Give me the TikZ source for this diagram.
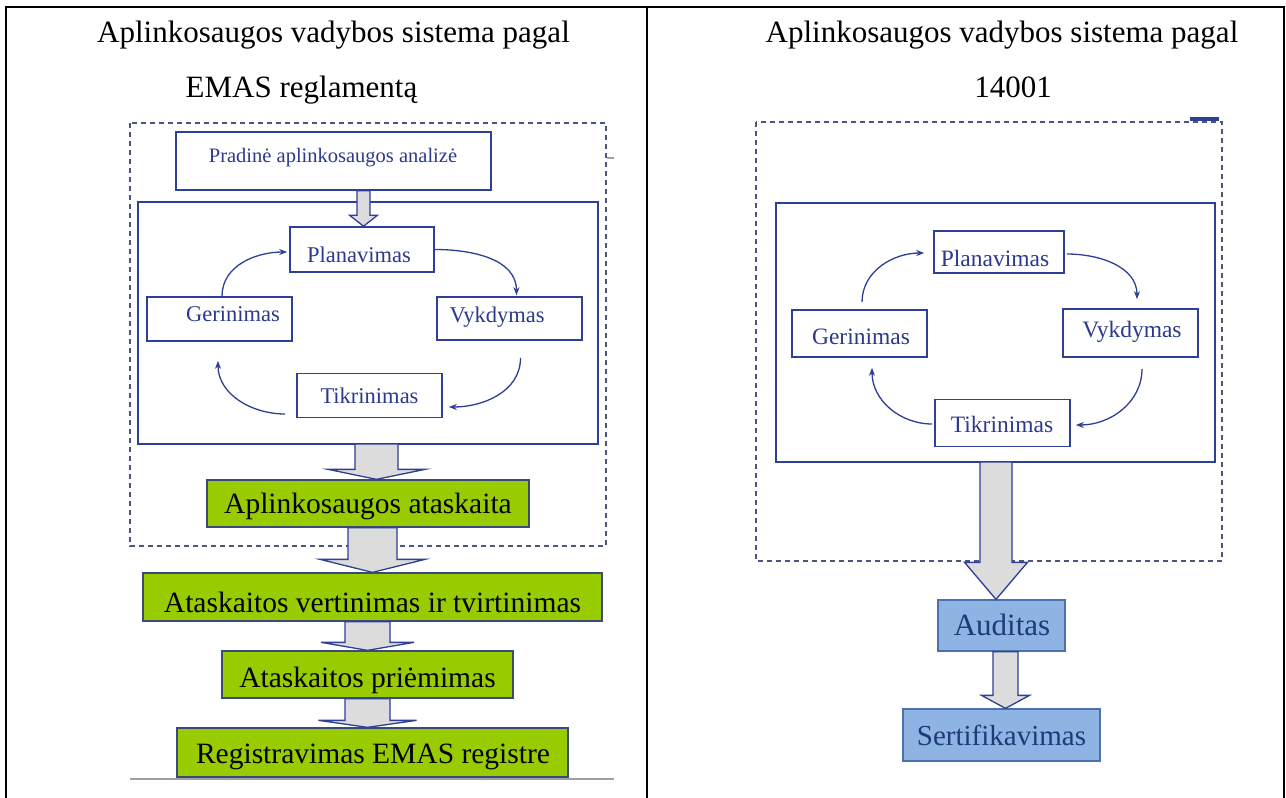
\documentclass[tikz,border=0pt]{standalone}
\usepackage{fontspec}
\setmainfont{Liberation Serif}
\usetikzlibrary{arrows.meta,calc}
\definecolor{lineblue}{HTML}{2E3F96}
\definecolor{txtblue}{HTML}{2B3A8C}
\definecolor{dashcol}{HTML}{4A5584}
\definecolor{greenfill}{HTML}{99CC00}
\definecolor{greenline}{HTML}{3A4A7A}
\definecolor{arrowfill}{HTML}{DCDCDC}
\definecolor{audfill}{HTML}{8DB4E2}
\definecolor{audline}{HTML}{4F6FAF}
\definecolor{audtxt}{HTML}{1F3A78}
\definecolor{rulegray}{HTML}{A0A0A0}
\newcommand{\fsz}[1]{\fontsize{#1}{#1}\selectfont}
% #1 start, #2 tip, #3 shaft half width, #4 head half width, #5 head length
\newcommand{\harrow}[5]{%
  \draw[hollow] let \p1=#1, \p2=#2 in
    (\x2-#3,\y1) -- (\x2+#3,\y1) -- (\x2+#3,\y2+#5) -- (\x2+#4,\y2+#5)
    -- (\x2,\y2) -- (\x2-#4,\y2+#5) -- (\x2-#3,\y2+#5) -- cycle;}
\begin{document}
\begin{tikzpicture}[x=1pt,y=-1pt,
  tbl/.style={line width=2pt,black},
  dashbox/.style={draw=dashcol,line width=1.2pt,dash pattern=on 5pt off 4pt},
  innerbox/.style={draw=lineblue,line width=2.2pt},
  cyc/.style={draw=lineblue,line width=1.6pt,fill=white,inner sep=0pt},
  cyctxt/.style={text=txtblue,inner sep=0pt,anchor=base},
  cycarr/.style={draw=lineblue,line width=1.3pt,-{Stealth[length=8pt,width=6pt]}},
  greenbox/.style={draw=greenline,line width=1.3pt,fill=greenfill,inner sep=0pt},
  greentxt/.style={text=black,inner sep=0pt,anchor=base,font=\fsz{29.5}},
  hollow/.style={draw=lineblue,line width=1.3pt,fill=arrowfill},
  bluebox/.style={draw=audline,line width=1.3pt,fill=audfill,inner sep=0pt},
  bluetxt/.style={text=audtxt,inner sep=0pt,anchor=base},
  hdr/.style={inner sep=0pt,anchor=base,font=\fsz{31}}
]
\useasboundingbox (0,0) rectangle (1286,798);
\fill[white] (0,0) rectangle (1286,798);

% table
\draw[tbl] (6,798) -- (6,7) -- (1284,7) -- (1284,798);
\draw[tbl] (647,7) -- (647,798);

% headers
\node[hdr] (hl1) at (333.5,42) {Aplinkosaugos vadybos sistema pagal};
\node[hdr] (hl2) at (301.5,97) {EMAS reglamentą};
\node[hdr] (hr1) at (1002,42) {Aplinkosaugos vadybos sistema pagal};
\node[hdr] (hr2) at (1013,97) {14001};

% ===== LEFT =====
\draw[dashbox] (130,123) rectangle (606,546);
\draw[rulegray,line width=1.5pt] (607,158) -- (614,158);
\draw[innerbox] (138,202) rectangle (598,444);
\coordinate (innerLsouth) at (368,444);

\node[cyc,minimum width=315pt,minimum height=58pt] (pradine) at (333.5,161) {};
\node[cyctxt,font=\fsz{20.5}] (pradineT) at (333,162) {Pradinė aplinkosaugos analizė};

\node[cyc,minimum width=144pt,minimum height=45pt] (planL) at (362,249.5) {};
\node[cyctxt,font=\fsz{22.5}] (planLT) at (359,262) {Planavimas};
\node[cyc,minimum width=145pt,minimum height=44pt] (gerL) at (219.5,319) {};
\node[cyctxt,font=\fsz{22.5}] (gerLT) at (233,321) {Gerinimas};
\node[cyc,minimum width=145pt,minimum height=43pt] (vykL) at (509.5,318.5) {};
\node[cyctxt,font=\fsz{22.5}] (vykLT) at (497,322) {Vykdymas};
\node[cyc,minimum width=145pt,minimum height=44pt] (tikL) at (369.5,395.5) {};
\node[cyctxt,font=\fsz{22.5}] (tikLT) at (369.5,403) {Tikrinimas};

\draw[cycarr] ([xshift=2.5pt]gerL.north) to[out=90,in=180] ([xshift=-2pt,yshift=-2.5pt]planL.west);
\draw[cycarr] (planL.east) to[out=0,in=90] ([xshift=7pt,yshift=1pt]vykL.north);
\draw[cycarr] ([xshift=11pt,yshift=-17pt]vykL.south) to[out=-90,in=0] ([xshift=6pt,yshift=-11.5pt]tikL.east);
\draw[cycarr] ([xshift=-11pt,yshift=-18.5pt]tikL.west) to[out=180,in=-90] ([xshift=-1.5pt,yshift=-19pt]gerL.south);

\node[greenbox,minimum width=322pt,minimum height=47pt] (atask) at (368,503.5) {};
\node[greentxt] (ataskT) at (368,513) {Aplinkosaugos ataskaita};
\node[greenbox,minimum width=459pt,minimum height=48pt] (vert) at (372.5,597) {};
\node[greentxt] (vertT) at (372.5,612) {Ataskaitos vertinimas ir tvirtinimas};
\node[greenbox,minimum width=291pt,minimum height=47pt] (priem) at (367.5,674.5) {};
\node[greentxt] (priemT) at (367.5,687) {Ataskaitos priėmimas};
\node[greenbox,minimum width=391pt,minimum height=49pt] (regis) at (372.5,752.5) {};
\node[greentxt] (regisT) at (373,763) {Registravimas EMAS registre};

\draw[rulegray,line width=2pt] (130,779) -- (614,779);

\harrow{(pradine.south)}{([xshift=1.5pt]planL.north)}{6.5pt}{14pt}{11pt}
\harrow{(innerLsouth)}{([xshift=8.5pt]atask.north)}{21.5pt}{48.5pt}{10pt}
\harrow{(atask.south)}{(vert.north)}{24.5pt}{52.5pt}{13pt}
\harrow{(vert.south)}{(priem.north)}{22.5pt}{46.5pt}{8pt}
\harrow{(priem.south)}{([xshift=-5pt]regis.north)}{22.5pt}{49pt}{7pt}

% ===== RIGHT =====
\draw[dashbox] (756,122) rectangle (1222,561);
\draw[lineblue,line width=3.5pt] (1190,119) -- (1219,119);
\draw[innerbox] (776,203) rectangle (1215,462);
\coordinate (innerRsouth) at (995.5,462);

\node[cyc,minimum width=130pt,minimum height=42pt] (planR) at (999,252) {};
\node[cyctxt,font=\fsz{23.5}] (planRT) at (995,266) {Planavimas};
\node[cyc,minimum width=135pt,minimum height=47pt] (gerR) at (859.5,333.5) {};
\node[cyctxt,font=\fsz{23.5}] (gerRT) at (861,344) {Gerinimas};
\node[cyc,minimum width=135pt,minimum height=48pt] (vykR) at (1130.5,333) {};
\node[cyctxt,font=\fsz{23.5}] (vykRT) at (1132,337) {Vykdymas};
\node[cyc,minimum width=135pt,minimum height=47pt] (tikR) at (1002.5,423) {};
\node[cyctxt,font=\fsz{23.5}] (tikRT) at (1002,432) {Tikrinimas};

\draw[cycarr] ([xshift=2.5pt,yshift=7pt]gerR.north) to[out=90,in=180] ([xshift=-9pt,yshift=-1pt]planR.west);
\draw[cycarr] ([xshift=2pt,yshift=-2pt]planR.east) to[out=0,in=90] ([xshift=6.5pt,yshift=9pt]vykR.north);
\draw[cycarr] ([xshift=11.5pt,yshift=-11pt]vykR.south) to[out=-90,in=0] ([xshift=5pt,yshift=-2pt]tikR.east);
\draw[cycarr] ([xshift=-2pt,yshift=-1pt]tikR.west) to[out=180,in=-90] ([xshift=12.5pt,yshift=-10pt]gerR.south);

\node[bluebox,minimum width=127pt,minimum height=51pt] (audit) at (1001.5,625.5) {};
\node[bluetxt,font=\fsz{31}] (auditT) at (1002,635) {Auditas};
\node[bluebox,minimum width=197pt,minimum height=52pt] (sert) at (1001.5,735) {};
\node[bluetxt,font=\fsz{29}] (sertT) at (1001.5,745) {Sertifikavimas};

\harrow{(innerRsouth)}{([xshift=-5.5pt]audit.north)}{16pt}{31.5pt}{37pt}
\harrow{(audit.south)}{([xshift=4pt]sert.north)}{12.5pt}{24pt}{13pt}
\end{tikzpicture}
\end{document}
